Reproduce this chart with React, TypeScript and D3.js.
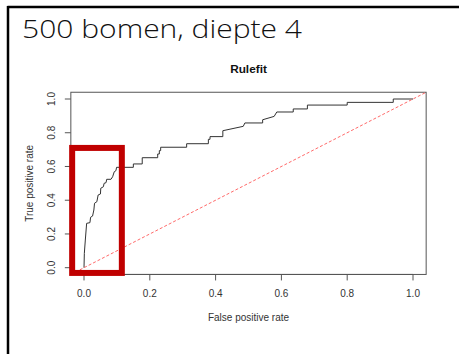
import React from "react";
import * as d3 from "d3";

// ROC curve of the rulefit model
const fpr = [
  0, 0.001, 0.004, 0.008, 0.018, 0.02, 0.026, 0.03, 0.032, 0.039, 0.043, 0.05, 0.051, 0.059,
  0.061, 0.067, 0.069, 0.082, 0.087, 0.092, 0.097, 0.099, 0.15, 0.15, 0.177, 0.177, 0.224,
  0.224, 0.229, 0.229, 0.233, 0.233, 0.312, 0.312, 0.378, 0.378, 0.383, 0.383, 0.422, 0.422,
  0.484, 0.489, 0.543, 0.543, 0.578, 0.586, 0.636, 0.636, 0.679, 0.679, 0.8, 0.8, 0.94, 0.94, 1,
];
const tpr = [
  0, 0.085, 0.164, 0.263, 0.267, 0.299, 0.306, 0.342, 0.382, 0.391, 0.431, 0.437, 0.471, 0.48,
  0.5, 0.504, 0.524, 0.524, 0.539, 0.569, 0.575, 0.595, 0.595, 0.615, 0.615, 0.652, 0.652,
  0.674, 0.674, 0.694, 0.694, 0.714, 0.714, 0.735, 0.735, 0.761, 0.761, 0.777, 0.777, 0.812,
  0.838, 0.858, 0.858, 0.877, 0.897, 0.923, 0.923, 0.941, 0.941, 0.964, 0.964, 0.98, 0.98, 1, 1,
];
const ticks = [0, 0.2, 0.4, 0.6, 0.8, 1];
const tickLabels = ["0.0", "0.2", "0.4", "0.6", "0.8", "1.0"];
// highlighted area (red box), in data units
const boxFpr = [-0.036, 0.115];
const boxTpr = [-0.031, 0.71];

const W = 459;
const H = 354;

export default function App() {
  const x = d3.scaleLinear().domain([0, 1]).range([84, 413]);
  const y = d3.scaleLinear().domain([0, 1]).range([267.7, 99]);
  const x0 = x(-0.04), x1 = x(1.04);
  const y0 = y(-0.04), y1 = y(1.04);

  const pts: [number, number][] = fpr.map((f, i) => [f, tpr[i]]);
  const line = d3
    .line<[number, number]>()
    .x((d) => x(d[0]))
    .y((d) => y(d[1]));

  const font = "'Liberation Sans', Arial, sans-serif";
  const txt = "#333";

  return (
    <svg
      width={W}
      height={H}
      style={{ position: "absolute", left: 0, top: 0, background: "#fff" }}
    >
      {/* slide frame */}
      <line x1={7.5} y1={7} x2={W} y2={7} stroke="#000" strokeWidth={2.5} />
      <line x1={8} y1={6} x2={8} y2={H} stroke="#000" strokeWidth={2.5} />
      <text
        x={22}
        y={38}
        fontFamily="'Open Sans', Lato, sans-serif"
        fontSize={26}
        fontWeight={300}
        fill="#111"
        textLength={280}
        lengthAdjust="spacingAndGlyphs"
      >
        500 bomen, diepte 4
      </text>

      {/* plot title */}
      <text
        x={(x0 + x1) / 2}
        y={72.5}
        textAnchor="middle"
        fontFamily={font}
        fontWeight="bold"
        fontSize={11.8}
        fill="#111"
      >
        Rulefit
      </text>

      {/* box */}
      <rect
        x={x0}
        y={y1}
        width={x1 - x0}
        height={y0 - y1}
        fill="none"
        stroke="#555"
        strokeWidth={1}
      />

      {/* x axis */}
      <line x1={x(0)} x2={x(1)} y1={y0} y2={y0} stroke="#555" />
      {ticks.map((t, i) => (
        <g key={"x" + i}>
          <line x1={x(t)} x2={x(t)} y1={y0} y2={y0 + 6} stroke="#555" />
          <text
            x={x(t)}
            y={296.7}
            textAnchor="middle"
            fontFamily={font}
            fontSize={10}
            fill={txt}
          >
            {tickLabels[i]}
          </text>
        </g>
      ))}
      <text
        x={(x0 + x1) / 2}
        y={321}
        textAnchor="middle"
        fontFamily={font}
        fontSize={10}
        fill={txt}
      >
        False positive rate
      </text>

      {/* y axis */}
      {ticks.map((t, i) => (
        <g key={"y" + i}>
          <line x1={x0 - 6} x2={x0} y1={y(t)} y2={y(t)} stroke="#555" />
          <text
            transform={`translate(55,${y(t)}) rotate(-90)`}
            textAnchor="middle"
            fontFamily={font}
            fontSize={10}
            fill={txt}
          >
            {tickLabels[i]}
          </text>
        </g>
      ))}
      <text
        transform={`translate(33,${(y0 + y1) / 2}) rotate(-90)`}
        textAnchor="middle"
        fontFamily={font}
        fontSize={10}
        fill={txt}
      >
        True positive rate
      </text>

      {/* ROC curve */}
      <path d={line(pts) ?? ""} fill="none" stroke="#333" strokeWidth={1} />

      {/* chance diagonal */}
      <line
        x1={x0}
        y1={y(-0.04)}
        x2={x1}
        y2={y(1.04)}
        stroke="#ff6a6a"
        strokeWidth={1}
        strokeDasharray="3,2"
      />

      {/* highlight */}
      <rect
        x={x(boxFpr[0])}
        y={y(boxTpr[1])}
        width={x(boxFpr[1]) - x(boxFpr[0])}
        height={y(boxTpr[0]) - y(boxTpr[1])}
        fill="none"
        stroke="#c00000"
        strokeWidth={6}
      />
    </svg>
  );
}
